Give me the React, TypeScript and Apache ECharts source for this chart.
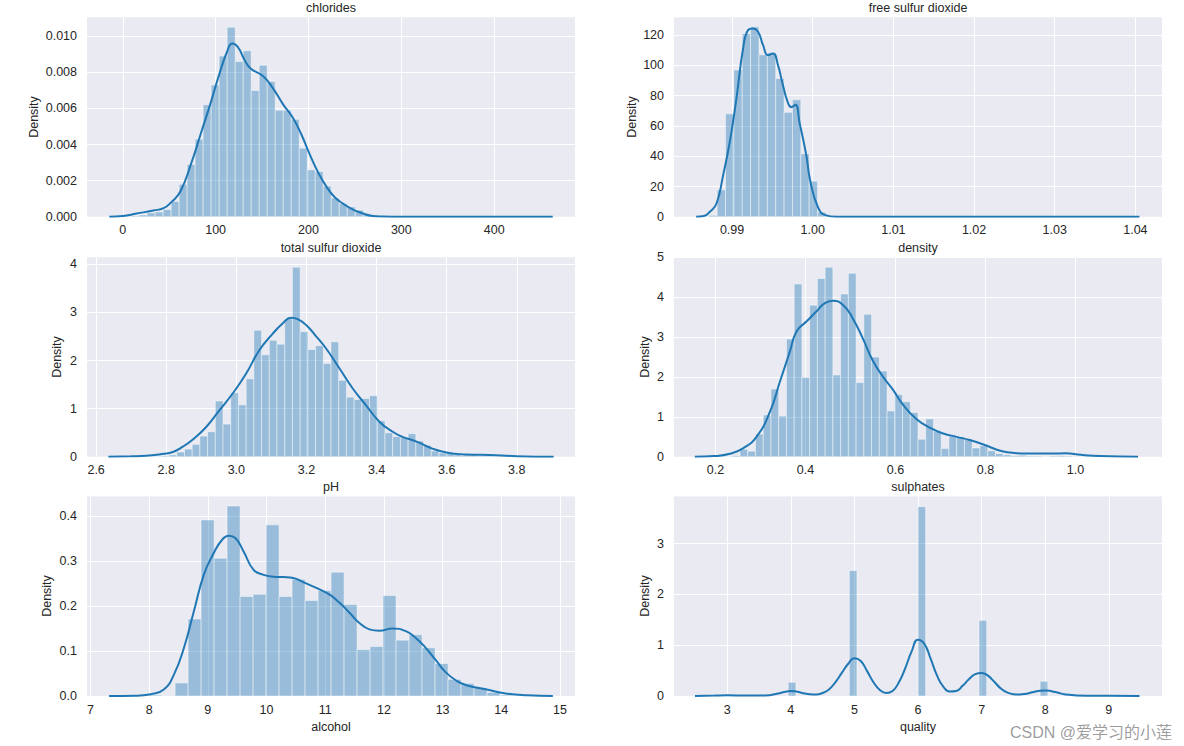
import React, { useEffect, useRef } from "react";
import * as echarts from "echarts";

// ---------------- DATA ----------------
// Panel 1: total sulfur dioxide (title "chlorides")
const tsdBinStart = 9;
const tsdBinWidth = 8.62;
const tsdHeights = [
  0.00005, 0.0001, 0.00022, 0.00027, 0.0004, 0.00085, 0.0018, 0.0029, 0.0043, 0.0062,
  0.0073, 0.0089, 0.0105, 0.0086, 0.0092, 0.007, 0.0084, 0.0075, 0.0059, 0.0059,
  0.0054, 0.0038, 0.0026, 0.0025, 0.0017, 0.00104, 0.00074, 0.00055, 0.00037, 0.00018,
  0.00005, 0.00002, 0, 0, 0, 0, 0, 0, 0, 0,
  0, 0, 0, 0, 0, 0, 0, 0, 0, 0,
];
const tsdKde = [
  [-14.5, 0], [0, 0.00004], [15, 0.00018], [33, 0.00035], [44, 0.00048], [52, 0.0008],
  [62, 0.0014], [74, 0.003], [84, 0.0046], [94, 0.0062], [104, 0.0079], [112, 0.0091],
  [118, 0.0096], [124, 0.0094], [131, 0.0087], [138, 0.0082], [151, 0.0078], [162, 0.0071],
  [173, 0.0062], [183, 0.0055], [192, 0.0046], [201, 0.0035], [210, 0.0025], [219, 0.0017],
  [228, 0.0011], [238, 0.0007], [248, 0.0004], [258, 0.0002], [267, 0.00006], [280, 0.00001],
  [300, 0], [463, 0],
];
const tsdXTicks = [0, 100, 200, 300, 400];
const tsdYTicks = [0, 0.002, 0.004, 0.006, 0.008, 0.01];

// Panel 2: density (title "free sulfur dioxide")
const denBinStart = 0.98711;
const denBinWidth = 0.0010374;
const denHeights = [
  1, 17.8, 68, 97, 121, 125.5, 107, 108.5, 91.4, 69,
  77.3, 41.6, 23.5, 3, 0.4, 0, 0, 0, 0, 0,
  0, 0, 0, 0, 0, 0, 0, 0, 0, 0,
  0, 0, 0, 0, 0, 0, 0, 0, 0, 0,
  0, 0, 0, 0, 0, 0, 0, 0, 0, 0,
];
const denKde = [
  [0.98555, 0], [0.9865, 0.5], [0.98724, 3.3], [0.98807, 8.8], [0.98889, 27.5], [0.98972, 49.6],
  [0.99054, 78.2], [0.99136, 111], [0.99198, 123.3], [0.9926, 124.4], [0.99322, 122.2],
  [0.99384, 113.4], [0.99445, 106.8], [0.99507, 107.9], [0.99569, 100.2], [0.9963, 87],
  [0.99692, 75.5], [0.99735, 72.5], [0.99785, 74], [0.99837, 62], [0.9992, 40.7],
  [0.99969, 23.8], [1.00063, 6.6], [1.00156, 1.1], [1.003, 0], [1.0405, 0],
];
const denXTicks = [0.99, 1.0, 1.01, 1.02, 1.03, 1.04];
const denYTicks = [0, 20, 40, 60, 80, 100, 120];

// Panel 3: pH (title "total sulfur dioxide")
const phBinStart = 2.72;
const phBinWidth = 0.022;
const phHeights = [
  0.01, 0, 0.01, 0.02, 0.04, 0.1, 0.16, 0.26, 0.43, 0.52,
  1.16, 0.68, 1.33, 1.08, 1.62, 2.63, 2.12, 2.42, 2.34, 2.87,
  3.94, 2.6, 2.23, 2.31, 1.94, 2.39, 1.59, 1.24, 1.19, 1.21,
  1.27, 0.75, 0.5, 0.42, 0.4, 0.48, 0.33, 0.24, 0.12, 0.08,
  0.08, 0.06, 0.05, 0.04, 0.02, 0.02, 0.01, 0.01, 0, 0.01,
];
const phKde = [
  [2.635, 0], [2.7, 0.01], [2.742, 0.02], [2.781, 0.05], [2.819, 0.1], [2.847, 0.21],
  [2.876, 0.36], [2.914, 0.62], [2.952, 0.97], [2.99, 1.32], [3.028, 1.73], [3.066, 2.22],
  [3.104, 2.56], [3.132, 2.77], [3.156, 2.89], [3.175, 2.86], [3.199, 2.74], [3.227, 2.51],
  [3.256, 2.25], [3.294, 1.84], [3.332, 1.42], [3.37, 1.07], [3.408, 0.73], [3.446, 0.52],
  [3.472, 0.42], [3.516, 0.31], [3.559, 0.17], [3.603, 0.083], [3.657, 0.05], [3.723, 0.035],
  [3.799, 0.014], [3.905, 0],
];
const phXTicks = [2.6, 2.8, 3.0, 3.2, 3.4, 3.6, 3.8];
const phYTicks = [0, 1, 2, 3, 4];

// Panel 4: sulphates (title "density")
const sulBinStart = 0.22;
const sulBinWidth = 0.0172;
const sulHeights = [
  0.01, 0.03, 0.19, 0.14, 0.57, 1.05, 1.7, 1.02, 2.95, 4.33,
  1.99, 3.8, 4.47, 4.75, 2.05, 4.08, 4.6, 1.86, 3.57, 2.5,
  2.15, 1.15, 1.56, 1.38, 1.11, 0.44, 0.95, 0.64, 0.21, 0.52,
  0.5, 0.44, 0.22, 0.28, 0.15, 0.08, 0.05, 0.03, 0.04, 0.02,
  0.02, 0.01, 0.02, 0.03, 0.02, 0.01, 0.01, 0, 0.01, 0.02,
];
const sulKde = [
  [0.154, 0], [0.197, 0.017], [0.232, 0.075], [0.261, 0.21], [0.291, 0.5], [0.321, 1.13],
  [0.343, 1.88], [0.365, 2.63], [0.38, 3.14], [0.402, 3.39], [0.424, 3.64], [0.443, 3.85],
  [0.461, 3.91], [0.484, 3.8], [0.506, 3.45], [0.528, 2.95], [0.55, 2.4], [0.572, 2.01],
  [0.595, 1.67], [0.617, 1.3], [0.647, 0.94], [0.676, 0.73], [0.706, 0.585], [0.736, 0.5],
  [0.765, 0.42], [0.8, 0.29], [0.827, 0.17], [0.852, 0.11], [0.894, 0.08], [0.945, 0.08],
  [0.978, 0.09], [1.012, 0.05], [1.054, 0.02], [1.139, 0],
];
const sulXTicks = [0.2, 0.4, 0.6, 0.8, 1.0];
const sulYTicks = [0, 1, 2, 3, 4, 5];

// Panel 5: alcohol (title "pH")
const alcBinStart = 8.0;
const alcBinWidth = 0.22143;
const alcHeights = [
  0.002, 0.001, 0.029, 0.171, 0.391, 0.306, 0.422, 0.221, 0.226, 0.38,
  0.221, 0.259, 0.212, 0.234, 0.275, 0.203, 0.103, 0.11, 0.223, 0.124,
  0.136, 0.107, 0.072, 0.037, 0.028, 0.019, 0.008, 0.002,
];
const alcKde = [
  [7.318, 0], [7.76, 0.0005], [8.03, 0.004], [8.256, 0.015], [8.425, 0.048], [8.594, 0.107],
  [8.763, 0.188], [8.932, 0.269], [9.1, 0.317], [9.244, 0.347], [9.356, 0.356], [9.469, 0.351],
  [9.61, 0.321], [9.78, 0.28], [9.95, 0.269], [10.117, 0.265], [10.286, 0.264], [10.455, 0.262],
  [10.624, 0.253], [10.85, 0.24], [11.076, 0.225], [11.245, 0.207], [11.415, 0.185],
  [11.584, 0.162], [11.753, 0.148], [11.922, 0.145], [12.147, 0.15], [12.374, 0.144],
  [12.543, 0.129], [12.712, 0.107], [12.882, 0.08], [13.05, 0.053], [13.247, 0.033],
  [13.405, 0.024], [13.73, 0.015], [14.05, 0.006], [14.44, 0.0015], [14.878, 0],
];
const alcXTicks = [7, 8, 9, 10, 11, 12, 13, 14, 15];
const alcYTicks = [0, 0.1, 0.2, 0.3, 0.4];

// Panel 6: quality (title "sulphates")
const qualBinLefts = [3.0, 3.96, 4.92, 6.0, 6.96, 7.92, 8.88];
const qualBinWidth = 0.12;
const qualHeights = [0.03, 0.27, 2.47, 3.73, 1.49, 0.29, 0.01];
const qualKde = [
  [2.494, 0], [2.8, 0.008], [3.0, 0.015], [3.3, 0.008], [3.6, 0.012], [3.8, 0.05], [3.9, 0.08],
  [4.0, 0.1], [4.1, 0.085], [4.2, 0.055], [4.3, 0.035], [4.4, 0.03], [4.5, 0.06], [4.6, 0.13],
  [4.7, 0.27], [4.8, 0.45], [4.9, 0.63], [5.0, 0.745], [5.1, 0.69], [5.2, 0.49], [5.3, 0.27],
  [5.4, 0.12], [5.5, 0.06], [5.6, 0.1], [5.7, 0.27], [5.8, 0.55], [5.9, 0.88], [6.0, 1.11],
  [6.1, 1.03], [6.2, 0.73], [6.3, 0.4], [6.4, 0.18], [6.5, 0.09], [6.6, 0.1], [6.7, 0.2],
  [6.8, 0.33], [6.9, 0.43], [7.0, 0.455], [7.1, 0.4], [7.2, 0.28], [7.3, 0.15], [7.4, 0.07],
  [7.5, 0.035], [7.6, 0.03], [7.7, 0.045], [7.8, 0.075], [7.9, 0.1], [8.0, 0.11], [8.1, 0.095],
  [8.2, 0.065], [8.3, 0.035], [8.5, 0.01], [8.8, 0.003], [9.0, 0.003], [9.482, 0],
];
const qualXTicks = [3, 4, 5, 6, 7, 8, 9];
const qualYTicks = [0, 1, 2, 3];

// ---------------- STYLE / LAYOUT ----------------
const FONT = '"Liberation Sans", Arial, Helvetica, sans-serif';
const FONT_SIZE = 12.5;
const TEXT_COLOR = "#262626";
const BG = "#EAEAF2";
const BAR_FILL = "rgba(31,119,180,0.4)";
const BAR_EDGE = "rgba(255,255,255,0.45)";
const LINE_COLOR = "#1f77b4";
const PLOT_W = 488;
const PLOT_H = 199.5;
const COL_LEFT = [87, 674];
const ROW_TOP = [17.3, 257.3, 496.5];

function regularBins(start: number, width: number, heights: number[]) {
  return heights.map((h, k) => [start + k * width, start + (k + 1) * width, h]);
}

const panels = [
  { bars: regularBins(tsdBinStart, tsdBinWidth, tsdHeights), kde: tsdKde, xMin: -38.5, xMax: 487, xTicks: tsdXTicks, xDec: 0, yMax: 0.01105, yTicks: tsdYTicks, yDec: 3, col: 0, row: 0 },
  { bars: regularBins(denBinStart, denBinWidth, denHeights), kde: denKde, xMin: 0.9828, xMax: 1.0433, xTicks: denXTicks, xDec: 2, yMax: 131.8, yTicks: denYTicks, yDec: 0, col: 1, row: 0 },
  { bars: regularBins(phBinStart, phBinWidth, phHeights), kde: phKde, xMin: 2.574, xMax: 3.966, xTicks: phXTicks, xDec: 1, yMax: 4.146, yTicks: phYTicks, yDec: 0, col: 0, row: 1 },
  { bars: regularBins(sulBinStart, sulBinWidth, sulHeights), kde: sulKde, xMin: 0.1077, xMax: 1.1923, xTicks: sulXTicks, xDec: 1, yMax: 5.0, yTicks: sulYTicks, yDec: 0, col: 1, row: 1 },
  { bars: regularBins(alcBinStart, alcBinWidth, alcHeights), kde: alcKde, xMin: 6.942, xMax: 15.256, xTicks: alcXTicks, xDec: 0, yMax: 0.443, yTicks: alcYTicks, yDec: 1, col: 0, row: 2 },
  { bars: qualBinLefts.map((l, i) => [l, l + qualBinWidth, qualHeights[i]]), kde: qualKde, xMin: 2.164, xMax: 9.836, xTicks: qualXTicks, xDec: 0, yMax: 3.93, yTicks: qualYTicks, yDec: 0, col: 1, row: 2 },
];

const labelTexts = [
  { text: "chlorides", x: 331, y: 7.5 },
  { text: "free sulfur dioxide", x: 918, y: 7.5 },
  { text: "total sulfur dioxide", x: 331, y: 247.5 },
  { text: "density", x: 918, y: 247.5 },
  { text: "pH", x: 331, y: 487.3 },
  { text: "sulphates", x: 918, y: 487.3 },
  { text: "alcohol", x: 331, y: 726.7 },
  { text: "quality", x: 918, y: 726.7 },
];
const densityLabelPos = [
  { x: 33.7, y: 117 }, { x: 631.7, y: 117 },
  { x: 57.4, y: 357 }, { x: 645, y: 357 },
  { x: 46.7, y: 596 }, { x: 645, y: 596 },
];

export default function App() {
  const ref = useRef<HTMLDivElement>(null);
  useEffect(() => {
    if (!ref.current) return;
    const chart = echarts.init(ref.current, undefined, { renderer: "svg" });
    const grid = panels.map((p) => ({
      left: COL_LEFT[p.col],
      top: ROW_TOP[p.row],
      width: PLOT_W,
      height: PLOT_H,
      show: true,
      backgroundColor: BG,
      borderWidth: 0,
      containLabel: false,
      outerBoundsMode: "none",
    }));
    const xAxis = panels.map((p, i) => ({
      type: "value",
      gridIndex: i,
      min: p.xMin,
      max: p.xMax,
      axisLine: { show: false },
      axisTick: { show: false, customValues: p.xTicks },
      axisLabel: {
        customValues: p.xTicks,
        formatter: (v: number) => v.toFixed(p.xDec),
        color: TEXT_COLOR,
        fontSize: FONT_SIZE,
        fontFamily: FONT,
        margin: 7,
      },
      splitLine: { show: true, lineStyle: { color: "#ffffff", width: 1 } },
    }));
    const yAxis = panels.map((p, i) => ({
      type: "value",
      gridIndex: i,
      min: 0,
      max: p.yMax,
      axisLine: { show: false },
      axisTick: { show: false, customValues: p.yTicks },
      axisLabel: {
        customValues: p.yTicks,
        formatter: (v: number) => v.toFixed(p.yDec),
        color: TEXT_COLOR,
        fontSize: FONT_SIZE,
        fontFamily: FONT,
        margin: 10,
      },
      splitLine: { show: true, lineStyle: { color: "#ffffff", width: 1 } },
    }));
    const series: any[] = [];
    panels.forEach((p, i) => {
      series.push({
        type: "custom",
        xAxisIndex: i,
        yAxisIndex: i,
        silent: true,
        z: 2,
        data: p.bars,
        encode: { x: [0, 1], y: 2 },
        renderItem: (_params: any, api: any) => {
          const a = api.coord([api.value(0), api.value(2)]);
          const b = api.coord([api.value(1), 0]);
          return {
            type: "rect",
            shape: { x: a[0], y: a[1], width: b[0] - a[0], height: b[1] - a[1] },
            style: { fill: BAR_FILL, stroke: BAR_EDGE, lineWidth: 1 },
          };
        },
      });
      series.push({
        type: "line",
        xAxisIndex: i,
        yAxisIndex: i,
        silent: true,
        z: 3,
        data: p.kde,
        smooth: true,
        showSymbol: false,
        symbol: "none",
        lineStyle: { color: LINE_COLOR, width: 2 },
      });
    });
    const graphic: any[] = [];
    labelTexts.forEach((t) => {
      graphic.push({
        type: "text",
        x: t.x,
        y: t.y,
        silent: true,
        style: { text: t.text, fill: TEXT_COLOR, fontSize: FONT_SIZE, fontFamily: FONT, align: "center", verticalAlign: "middle" },
      });
    });
    densityLabelPos.forEach((d) => {
      graphic.push({
        type: "text",
        x: d.x,
        y: d.y,
        rotation: Math.PI / 2,
        silent: true,
        style: { text: "Density", fill: TEXT_COLOR, fontSize: FONT_SIZE, fontFamily: FONT, align: "center", verticalAlign: "middle" },
      });
    });
    graphic.push({
      type: "text",
      x: 1172,
      y: 732.5,
      silent: true,
      style: {
        text: "CSDN @爱学习的小莲",
        fill: "rgba(140,140,140,0.85)",
        fontSize: 16,
        fontFamily: '"Liberation Sans", "Noto Sans CJK SC", sans-serif',
        align: "right",
        verticalAlign: "middle",
      },
    });
    chart.setOption({
      animation: false,
      backgroundColor: "#ffffff",
      grid,
      xAxis,
      yAxis,
      series,
      graphic,
    });
    return () => chart.dispose();
  }, []);
  return (
    <div
      ref={ref}
      style={{ position: "fixed", left: 0, top: 0, width: 1184, height: 746, background: "#ffffff" }}
    />
  );
}
